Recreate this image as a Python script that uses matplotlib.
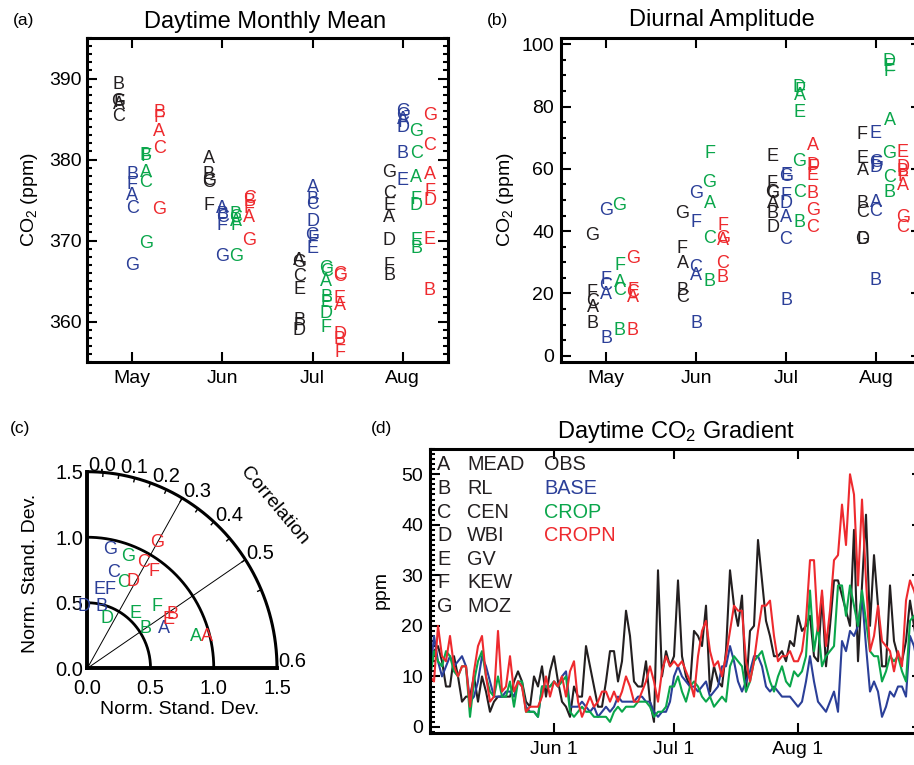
import numpy as np
import matplotlib
matplotlib.use("Agg")
import matplotlib.pyplot as plt
from matplotlib.ticker import MultipleLocator

plt.rcParams["font.family"] = ["Liberation Sans", "DejaVu Sans"]
plt.rcParams["mathtext.fontset"] = "custom"
plt.rcParams["mathtext.rm"] = "Liberation Sans"
plt.rcParams["mathtext.it"] = "Liberation Sans:italic"

W, H = 914, 765
nan = np.nan

MONTHS = ["May", "Jun", "Jul", "Aug"]
SITES = ["A", "B", "C", "D", "E", "F", "G"]
SITE_NAMES = ["MEAD", "RL", "CEN", "WBI", "GV", "KEW", "MOZ"]
RUNS = ["OBS", "BASE", "CROP", "CROPN"]
COLORS = ["#231f20", "#2b3f98", "#0aa64b", "#ee2a2e"]
OFFSETS = [-0.15, 0.0, 0.15, 0.30]

# (a) daytime monthly mean CO2 (ppm), rows = months, cols = sites A..G
mean_obs = [
    [386.8, 389.3, 385.3, nan, nan, 387.0, 387.2],
    [380.1, 378.2, 377.2, nan, nan, 374.3, 377.4],
    [367.5, 360.1, 365.5, 358.9, 364.0, 359.5, 367.3],
    [372.9, 365.7, 375.8, 370.0, 374.3, 366.9, 378.4],
]
mean_base = [
    [375.6, 378.1, 373.9, nan, nan, 376.9, 366.9],
    [373.9, 373.2, 372.8, nan, nan, 371.8, 368.0],
    [376.6, 375.0, 374.4, 372.3, 369.0, 370.2, 370.6],
    [385.0, 380.8, 385.4, 384.0, 377.4, 384.6, 385.9],
]
mean_crop = [
    [378.4, 380.5, 377.2, nan, nan, 380.4, 369.6],
    [372.4, 373.2, 372.8, nan, nan, 371.9, 368.0],
    [364.9, 363.0, 366.2, 361.0, 362.4, 359.3, 366.5],
    [377.8, 369.0, 380.7, 374.3, 370.0, 375.1, 383.4],
]
mean_cropn = [
    [383.4, 385.8, 381.3, nan, nan, 385.2, 373.8],
    [372.9, 374.8, 375.2, nan, nan, 374.0, 370.0],
    [362.0, 357.8, 365.6, 358.4, 362.8, 356.2, 365.8],
    [378.2, 363.8, 381.7, 374.9, 370.1, 376.0, 385.4],
]

# (b) diurnal amplitude (ppm)
amp_obs = [
    [15.5, 10.2, 17.5, nan, nan, 20.4, 38.6],
    [29.5, 20.9, 18.8, nan, nan, 34.3, 45.8],
    [48.8, 45.6, 52.0, 41.3, 64.0, 55.4, 52.5],
    [59.5, 48.8, 46.1, 37.2, 63.2, 71.1, 37.4],
]
amp_base = [
    [19.8, 5.4, 22.5, nan, nan, 24.4, 46.6],
    [25.7, 10.2, 28.4, nan, nan, 42.9, 52.0],
    [44.5, 17.9, 37.2, 48.8, 57.9, 51.4, 57.5],
    [49.3, 24.3, 46.4, 60.5, 71.5, 61.5, 62.0],
]
amp_crop = [
    [23.6, 8.0, 20.9, nan, nan, 29.0, 48.2],
    [48.8, 23.9, 37.5, nan, nan, 65.0, 55.7],
    [83.5, 42.9, 52.5, 86.0, 78.0, 85.0, 62.2],
    [75.6, 52.5, 57.3, 94.3, 92.8, 91.1, 64.9],
]
amp_cropn = [
    [18.8, 8.0, 20.4, nan, nan, 21.0, 31.1],
    [37.0, 25.2, 29.5, nan, nan, 41.8, 37.5],
    [67.5, 52.0, 41.1, 61.1, 57.9, 60.5, 46.6],
    [54.7, 59.0, 41.3, 60.5, 65.4, 57.5, 44.5],
]

# (c) Taylor diagram: normalised standard deviation and correlation per site
taylor_sd = {
    "BASE": [0.678, 0.487, 0.758, 0.474, 0.608, 0.626, 0.925],
    "CROP": [0.890, 0.551, 0.712, 0.415, 0.567, 0.726, 0.916],
    "CROPN": [0.980, 0.785, 0.920, 0.756, 0.743, 0.908, 1.106],
}
taylor_corr = {
    "BASE": [0.535, 0.140, 0.164, -0.038, 0.099, 0.172, 0.117],
    "CROP": [0.577, 0.499, 0.241, 0.230, 0.401, 0.455, 0.214],
    "CROPN": [0.581, 0.512, 0.290, 0.286, 0.520, 0.347, 0.299],
}
CORR_LABELS = [0.0, 0.1, 0.2, 0.3, 0.4, 0.5, 0.6]
CORR_LINES = [0.3, 0.5]
SD_ARCS = [0.5, 1.0, 1.5]

# (d) daily daytime CO2 gradient (ppm), day 0 = May 1
grad_obs = [
    11, 15, 16, 13, 8, 8, 14, 10, 5, 6,
    6, 10, 5, 10, 7, 3, 5, 6, 6, 6,
    6, 9, 11, 9, 5, 4, 10, 8, 12, 6,
    11, 14, 9, 5, 4, 2, 8, 6, 6, 16,
    12, 8, 4, 4, 9, 15, 15, 9, 13, 23,
    18, 9, 8, 8, 13, 5, 1, 31, 10, 15,
    12, 14, 29, 14, 10, 8, 19, 18, 16, 24,
    7, 12, 9, 8, 15, 31, 24, 20, 26, 7,
    19, 20, 37, 29, 21, 18, 14, 14, 15, 13,
    17, 16, 22, 19, 20, 22, 14, 13, 26, 12,
    20, 29, 29, 26, 23, 20, 39, 13, 28, 42,
    20, 34, 24, 12, 12, 28, 17, 14, 13, 17,
    25, 20, 15,
]
grad_base = [
    10, 18, 13, 10, 12, 14, 12, 13, 14, 12,
    5, 6, 9, 14, 12, 9, 6, 6, 6, 7,
    7, 6, 9, 8, 4, 3, 3, 2, 8, 8,
    8, 9, 8, 10, 11, 4, 4, 4, 5, 4,
    3, 4, 2, 3, 4, 3, 4, 6, 5, 5,
    5, 5, 6, 6, 5, 5, 3, 2, 3, 3,
    5, 10, 12, 10, 9, 8, 8, 7, 8, 9,
    6, 7, 8, 12, 12, 16, 13, 9, 7, 9,
    11, 14, 14, 12, 8, 7, 8, 7, 6, 6,
    6, 5, 4, 5, 9, 14, 9, 5, 4, 3,
    5, 7, 3, 17, 15, 19, 18, 20, 26, 16,
    7, 9, 7, 2, 4, 7, 6, 8, 8, 6,
    18, 16, 12,
]
grad_crop = [
    9.5, 15, 13, 12, 15, 14, 11, 10, 12, 12,
    2, 9, 13, 15, 10, 7, 6, 10, 6, 6,
    9, 4, 9, 9, 3, 3, 3, 2, 8, 8,
    8, 9, 8, 9, 10, 3, 2, 3, 4, 3,
    3, 2, 2, 2, 2, 1, 3, 4, 3, 4,
    4, 4, 5, 5, 5, 4, 2, 3, 3, 4,
    8, 8, 10, 7, 5, 8, 9, 8, 6, 5,
    6, 4, 5, 6, 5, 12, 14, 13, 12, 7,
    9, 13, 14, 15, 12, 9, 7, 10, 12, 9,
    8, 11, 10, 11, 14, 27, 15, 20, 12, 14,
    15, 16, 28, 28, 22, 28, 24, 20, 27, 21,
    15, 14, 14, 9, 11, 14, 13, 14, 11, 9,
    21, 22, 18,
]
grad_cropn = [
    10, 9, 20, 14, 13, 18, 12, 10, 12, 12,
    4, 11, 16, 18, 10, 5, 6, 19, 7, 8,
    14, 7, 9, 8, 3, 4, 4, 4, 6, 10,
    6, 9, 8, 10, 6, 11, 13, 5, 2, 4,
    6, 4, 5, 7, 7, 5, 7, 5, 7, 10,
    8, 5, 5, 7, 9, 12, 9, 5, 11, 14,
    12, 13, 12, 13, 11, 9, 6, 14, 19, 21,
    15, 12, 13, 10, 14, 19, 24, 23, 23, 13,
    9, 13, 19, 24, 24, 25, 18, 13, 14, 14,
    15, 13, 13, 15, 21, 33, 33, 19, 27, 16,
    23, 33, 34, 44, 36, 50, 46, 28, 45, 29,
    15, 18, 24, 17, 16, 15, 11, 15, 12, 25,
    29, 27, 24,
]
DATE_TICKS = [31, 61, 92]
DATE_LABELS = ["Jun 1", "Jul 1", "Aug 1"]


def add_ax(fig, left, top, right, bottom):
    return fig.add_axes([left / W, 1 - bottom / H, (right - left) / W, (bottom - top) / H])


def fig_text(fig, x, y, s, **kw):
    fig.text(x / W, 1 - y / H, s, **kw)


def style_box(ax, minor):
    for sp in ax.spines.values():
        sp.set_linewidth(2.2)
    ax.yaxis.set_minor_locator(MultipleLocator(minor))
    ax.tick_params(which="both", direction="in", top=True, right=True, width=1.5)
    ax.tick_params(which="major", length=7, labelsize=14)
    ax.tick_params(which="minor", length=3.5)
    ax.tick_params(axis="x", which="minor", bottom=False, top=False)
    ax.tick_params(axis="x", pad=6)


def plot_letters(ax, runs_data):
    for k, data in enumerate(runs_data):
        for m, row in enumerate(data):
            for i, v in enumerate(row):
                if not np.isnan(v):
                    ax.text(m + OFFSETS[k], v, SITES[i], color=COLORS[k],
                            ha="center", va="center", fontsize=13)


fig = plt.figure(figsize=(W / 100, H / 100), dpi=100)

# (a)
ax_a = add_ax(fig, 87, 38, 448, 362)
ax_a.set_xlim(-0.5, 3.5)
ax_a.set_ylim(355, 395)
ax_a.set_xticks(range(len(MONTHS)))
ax_a.set_xticklabels(MONTHS)
ax_a.set_yticks([360, 370, 380, 390])
style_box(ax_a, 1)
ax_a.tick_params(axis="y", pad=4)
plot_letters(ax_a, [mean_obs, mean_base, mean_crop, mean_cropn])
fig_text(fig, 265, 22, "Daytime Monthly Mean", ha="center", va="center", fontsize=17)
fig_text(fig, 24, 20, "(a)", ha="center", va="center", fontsize=12.5)
fig_text(fig, 30, 200, "CO$_2$ (ppm)", ha="center", va="center", rotation=90, fontsize=14)

# (b)
ax_b = add_ax(fig, 561, 38, 921, 362)
ax_b.set_xlim(-0.5, 3.5)
ax_b.set_ylim(-2, 102)
ax_b.set_xticks(range(len(MONTHS)))
ax_b.set_xticklabels(MONTHS)
ax_b.set_yticks([0, 20, 40, 60, 80, 100])
style_box(ax_b, 5)
ax_b.tick_params(axis="y", pad=5)
plot_letters(ax_b, [amp_obs, amp_base, amp_crop, amp_cropn])
fig_text(fig, 722, 20, "Diurnal Amplitude", ha="center", va="center", fontsize=17)
fig_text(fig, 497, 20, "(b)", ha="center", va="center", fontsize=12.5)
fig_text(fig, 506, 200, "CO$_2$ (ppm)", ha="center", va="center", rotation=90, fontsize=14)

# (c) Taylor diagram
ax_c = add_ax(fig, 87.3, 471.7, 277, 668.3)
ax_c.set_xlim(0, 1.5)
ax_c.set_ylim(0, 1.5)
for side in ["top", "right"]:
    ax_c.spines[side].set_visible(False)
for side in ["left", "bottom"]:
    ax_c.spines[side].set_linewidth(2.8)
ax_c.set_xticks([0, 0.5, 1.0, 1.5])
ax_c.set_xticklabels(["0.0", "0.5", "1.0", "1.5"])
ax_c.set_yticks([0, 0.5, 1.0, 1.5])
ax_c.set_yticklabels(["0.0", "0.5", "1.0", "1.5"])
ax_c.tick_params(length=0, labelsize=14.5)
ax_c.tick_params(axis="x", pad=8)
ax_c.tick_params(axis="y", pad=3)
theta = np.linspace(0, np.pi / 2, 200)
for r in SD_ARCS:
    ax_c.plot(r * np.cos(theta), r * np.sin(theta), color="k",
              lw=2.2 if r == 1.5 else 2.0, clip_on=False)
for c in CORR_LINES:
    ang = np.arccos(c / 0.6)
    ax_c.plot([0, 1.5 * np.cos(ang)], [0, 1.5 * np.sin(ang)], color="k", lw=0.7)
for c in np.arange(0.05, 0.56, 0.05):
    ang = np.arccos(c / 0.6)
    ax_c.plot([1.47 * np.cos(ang), 1.5 * np.cos(ang)],
              [1.47 * np.sin(ang), 1.5 * np.sin(ang)], color="k", lw=1.0)
for c in CORR_LABELS:
    ang = np.arccos(c / 0.6)
    ax_c.text(1.5 * np.cos(ang) + 0.01, 1.5 * np.sin(ang) + 0.05, f"{c:.1f}",
              ha="left", va="center", fontsize=14.5, clip_on=False)
ax_c.text(1.48, 1.24, "Correlation", rotation=-50, ha="center", va="center",
          fontsize=14, rotation_mode="anchor")
for k, run in enumerate(RUNS[1:], start=1):
    sd = np.array(taylor_sd[run])
    cc = np.array(taylor_corr[run]) / 0.6
    xs = sd * cc
    ys = sd * np.sqrt(1 - cc ** 2)
    for i in range(len(SITES)):
        ax_c.text(xs[i], ys[i], SITES[i], color=COLORS[k], ha="center",
                  va="center", fontsize=13, clip_on=False)
fig_text(fig, 20, 428, "(c)", ha="center", va="center", fontsize=12.5)
fig_text(fig, 31, 573, "Norm. Stand. Dev.", ha="center", va="center", rotation=90, fontsize=14)
fig_text(fig, 180, 710, "Norm. Stand. Dev.", ha="center", va="center", fontsize=14)

# (d) time series
ax_d = add_ax(fig, 430, 448.5, 922, 732.5)
days = np.arange(len(grad_obs))
for k, series in enumerate([grad_obs, grad_base, grad_crop, grad_cropn]):
    ax_d.plot(days, series, color=COLORS[k], lw=1.5)
ax_d.set_xlim(0, 123)
ax_d.set_ylim(-1.1, 55.1)
ax_d.set_xticks(DATE_TICKS)
ax_d.set_xticklabels(DATE_LABELS)
ax_d.set_yticks([0, 10, 20, 30, 40, 50])
style_box(ax_d, 1)
ax_d.tick_params(axis="y", pad=5)
row_y = [465 + 23.6 * i for i in range(len(SITES))]
for i in range(len(SITES)):
    yf = (732.5 - row_y[i]) / 284
    ax_d.text((437 - 430) / 492, yf, SITES[i], transform=ax_d.transAxes,
              ha="left", va="center", fontsize=14.3, color=COLORS[0])
    ax_d.text((467 - 430) / 492, yf, SITE_NAMES[i], transform=ax_d.transAxes,
              ha="left", va="center", fontsize=14.3, color=COLORS[0])
for k, run in enumerate(RUNS):
    yf = (732.5 - row_y[k]) / 284
    ax_d.text((544 - 430) / 492, yf, run, transform=ax_d.transAxes,
              ha="left", va="center", fontsize=14.3, color=COLORS[k])
fig_text(fig, 676, 432, "Daytime CO$_2$ Gradient", ha="center", va="center", fontsize=17)
fig_text(fig, 381, 428, "(d)", ha="center", va="center", fontsize=12.5)
fig_text(fig, 381, 590, "ppm", ha="center", va="center", rotation=90, fontsize=14)

fig.savefig("out.png", dpi=100)
